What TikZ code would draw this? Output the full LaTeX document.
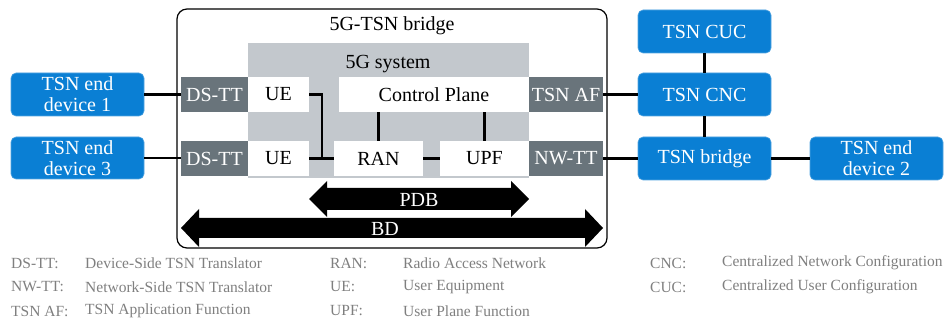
\documentclass[tikz,border=0pt]{standalone}
\usepackage{fontspec}
\setmainfont{Liberation Serif}
\usetikzlibrary{positioning}
\definecolor{tsnblue}{HTML}{0A7FD4}
\definecolor{ttgray}{HTML}{69747B}
\definecolor{sysgray}{HTML}{C3C8CD}
\definecolor{leggray}{HTML}{7F7F7F}
\tikzset{
  bluebox/.style={fill=tsnblue, draw=tsnblue!70!white, line width=0.6pt, rounded corners=5pt, text=white, align=center, inner sep=0pt, minimum width=133pt, font=\fontsize{20}{22}\selectfont},
  ttbox/.style={fill=ttgray, text=white, inner sep=0pt, minimum height=35pt, font=\fontsize{20}{22}\selectfont},
  wbox/.style={fill=white, inner sep=0pt, minimum height=35pt, font=\fontsize{20}{22}\selectfont},
  conn/.style={line width=2.5pt},
  legtxt/.style={anchor=west, inner sep=0pt, text=leggray, font=\fontsize{15.5}{17}\selectfont},
  bigarrow/.style={fill=black},
  arrowtxt/.style={text=white, inner sep=0pt, font=\fontsize{20}{22}\selectfont}
}
\begin{document}
\begin{tikzpicture}[x=1pt,y=-1pt]
\useasboundingbox (0,0) rectangle (946,320);
% outer bridge box
\draw[line width=1.2pt, rounded corners=10pt] (177,9) rectangle (607,248);
\node[inner sep=0pt, font=\fontsize{20}{22}\selectfont] (brtitle) at (392,26) {5G-TSN bridge};
% 5G system
\fill[sysgray] (248,43) rectangle (529,178);
\node[inner sep=0pt, font=\fontsize{20}{22}\selectfont] (systitle) at (388,64) {5G system};
% inner boxes
\node[ttbox, minimum width=67pt] (dstt1) at (214.5,94.5) {DS-TT};
\node[ttbox, minimum width=67pt] (dstt2) at (214.5,158.5) {DS-TT};
\node[wbox, minimum width=61pt] (ue1) at (278.5,94.5) {UE};
\node[wbox, minimum width=61pt] (ue2) at (278.5,158.5) {UE};
\node[wbox, minimum width=190pt] (cp) at (434,94.5) {Control Plane};
\node[wbox, minimum width=89pt] (ran) at (378.5,158.5) {RAN};
\node[wbox, minimum width=89pt] (upf) at (484.5,158.5) {UPF};
\node[ttbox, minimum width=74pt] (tsnaf) at (566,94.5) {TSN AF};
\node[ttbox, minimum width=74pt] (nwtt) at (566,158.5) {NW-TT};
% outside boxes
\node[bluebox, minimum height=43pt] (dev1) at (77.5,94.5) {TSN end\\[-1pt]device 1};
\node[bluebox, minimum height=42pt] (dev3) at (77.5,158) {TSN end\\[-1pt]device 3};
\node[bluebox, minimum height=43pt] (cuc) at (704.5,31.5) {TSN CUC};
\node[bluebox, minimum height=43pt] (cnc) at (704.5,94.5) {TSN CNC};
\node[bluebox, minimum height=43pt] (tbr) at (704.5,158.5) {TSN bridge};
\node[bluebox, minimum height=43pt] (dev2) at (876.5,158.5) {TSN end\\[-1pt]device 2};
% connectors
\draw[conn] (dev1.east) -- (dev1.east -| dstt1.west);
\draw[conn] (dev3.east) -- (dev3.east -| dstt2.west);
\draw[conn] (ue1.east) -- ++(13,0) |- (ran.west);
\draw[conn] (ue2.east) -- (ran.west);
\draw[conn] (ran.east) -- (upf.west);
\draw[conn] (ran.north) -- (ran.north |- cp.south);
\draw[conn] (upf.north) -- (upf.north |- cp.south);
\draw[conn] (tsnaf.east) -- (tsnaf.east -| cnc.west);
\draw[conn] (nwtt.east) -- (nwtt.east -| tbr.west);
\draw[conn] (tbr.east) -- (dev2.west);
\draw[conn] (cuc.south) -- (cnc.north);
\draw[conn] (cnc.south) -- (tbr.north);
% PDB arrow
\fill[bigarrow] (309,199) -- (327,181) -- (327,188) -- (511,188) -- (511,181) -- (529,199) -- (511,217) -- (511,210) -- (327,210) -- (327,217) -- cycle;
\node[arrowtxt] (pdb) at (419,200) {PDB};
% BD arrow
\fill[bigarrow] (181,228) -- (199,209) -- (199,218) -- (585,218) -- (585,209) -- (603,228) -- (585,247) -- (585,238) -- (199,238) -- (199,247) -- cycle;
\node[arrowtxt] (bd) at (385,229) {BD};
% legend
\node[legtxt] (l1a) at (11,263) {DS-TT:};
\node[legtxt] (l1b) at (85,263) {Device-Side TSN Translator};
\node[legtxt] (l2a) at (11,287) {NW-TT:};
\node[legtxt] (l2b) at (85,287) {Network-Side TSN Translator};
\node[legtxt] (l3a) at (11,311) {TSN AF:};
\node[legtxt] (l3b) at (85,311) {TSN Application Function};
\node[legtxt] (l4a) at (330,263) {RAN:};
\node[legtxt] (l4b) at (403,263) {Radio Access Network};
\node[legtxt] (l5a) at (330,287) {UE:};
\node[legtxt] (l5b) at (403,287) {User Equipment};
\node[legtxt] (l6a) at (330,311) {UPF:};
\node[legtxt] (l6b) at (403,311) {User Plane Function};
\node[legtxt] (l7a) at (650,263) {CNC:};
\node[legtxt] (l7b) at (722,263) {Centralized Network Configuration};
\node[legtxt] (l8a) at (650,287) {CUC:};
\node[legtxt] (l8b) at (722,287) {Centralized User Configuration};
\end{tikzpicture}
\end{document}
